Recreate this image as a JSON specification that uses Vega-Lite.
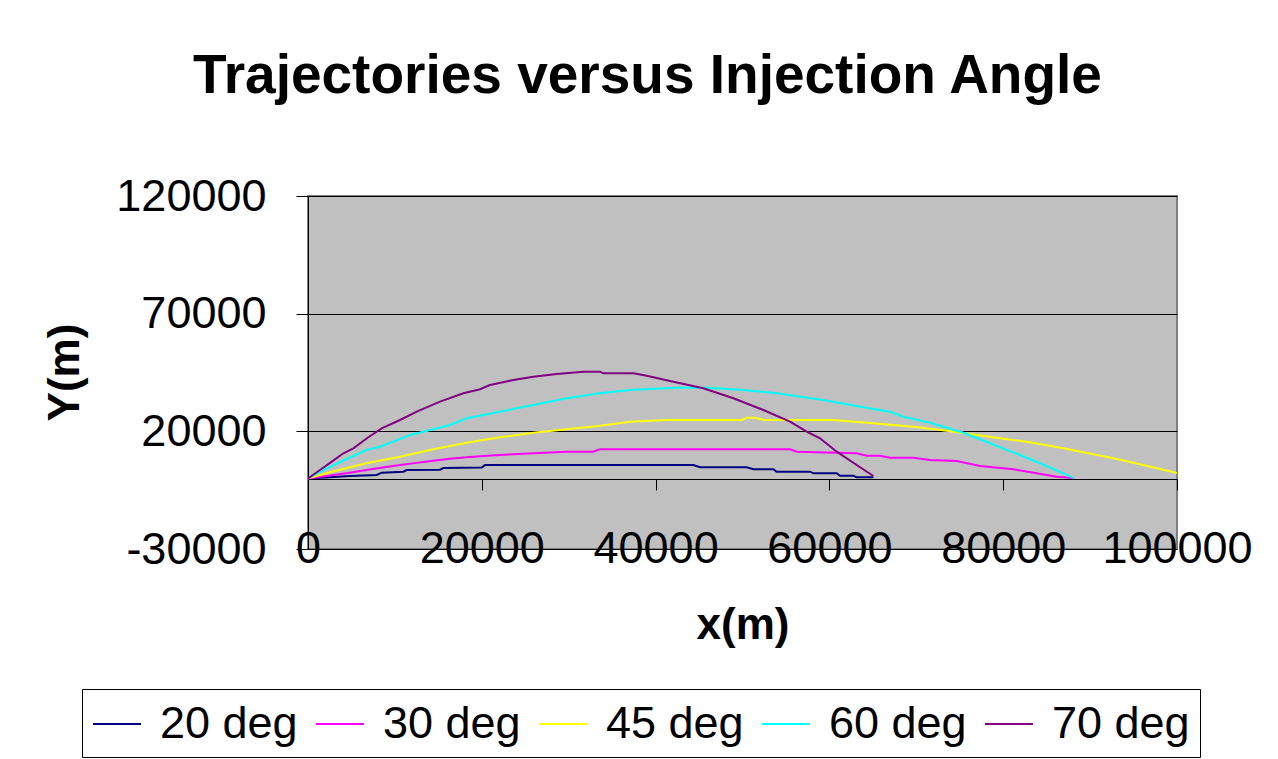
{
  "$schema": "https://vega.github.io/schema/vega-lite/v6.json",
  "width": 869,
  "height": 353,
  "autosize": {"type": "none"},
  "padding": {"left": 308, "top": 196, "right": 101, "bottom": 210},
  "background": "white",
  "title": {
    "text": "Trajectories versus Injection Angle",
    "fontSize": 55,
    "fontWeight": "bold",
    "color": "black",
    "anchor": "middle",
    "dx": -95,
    "offset": 26,
    "baseline": "alphabetic"
  },
  "data": {
    "values": [
      {"angle": "20 deg", "x": 0, "y": 0},
      {"angle": "20 deg", "x": 2000, "y": 400},
      {"angle": "20 deg", "x": 4830, "y": 1020},
      {"angle": "20 deg", "x": 7900, "y": 1440},
      {"angle": "20 deg", "x": 8480, "y": 2420},
      {"angle": "20 deg", "x": 10970, "y": 2850},
      {"angle": "20 deg", "x": 11360, "y": 3570},
      {"angle": "20 deg", "x": 15190, "y": 3700},
      {"angle": "20 deg", "x": 15570, "y": 4420},
      {"angle": "20 deg", "x": 19980, "y": 4600},
      {"angle": "20 deg", "x": 20370, "y": 5650},
      {"angle": "20 deg", "x": 44340, "y": 5650},
      {"angle": "20 deg", "x": 45110, "y": 4720},
      {"angle": "20 deg", "x": 50480, "y": 4720},
      {"angle": "20 deg", "x": 51260, "y": 3870},
      {"angle": "20 deg", "x": 53560, "y": 3870},
      {"angle": "20 deg", "x": 53930, "y": 2850},
      {"angle": "20 deg", "x": 57770, "y": 2850},
      {"angle": "20 deg", "x": 58170, "y": 2170},
      {"angle": "20 deg", "x": 60840, "y": 2170},
      {"angle": "20 deg", "x": 61220, "y": 1150},
      {"angle": "20 deg", "x": 62760, "y": 1150},
      {"angle": "20 deg", "x": 63140, "y": 470},
      {"angle": "20 deg", "x": 65060, "y": 470},

      {"angle": "30 deg", "x": 0, "y": 0},
      {"angle": "30 deg", "x": 2920, "y": 1440},
      {"angle": "30 deg", "x": 4600, "y": 2300},
      {"angle": "30 deg", "x": 6710, "y": 3570},
      {"angle": "30 deg", "x": 8600, "y": 4600},
      {"angle": "30 deg", "x": 10590, "y": 5700},
      {"angle": "30 deg", "x": 12500, "y": 6600},
      {"angle": "30 deg", "x": 14420, "y": 7520},
      {"angle": "30 deg", "x": 16300, "y": 8300},
      {"angle": "30 deg", "x": 18260, "y": 8970},
      {"angle": "30 deg", "x": 20200, "y": 9500},
      {"angle": "30 deg", "x": 22090, "y": 9950},
      {"angle": "30 deg", "x": 25930, "y": 10670},
      {"angle": "30 deg", "x": 29760, "y": 11350},
      {"angle": "30 deg", "x": 32800, "y": 11350},
      {"angle": "30 deg", "x": 33600, "y": 12370},
      {"angle": "30 deg", "x": 55470, "y": 12370},
      {"angle": "30 deg", "x": 56240, "y": 11350},
      {"angle": "30 deg", "x": 63140, "y": 10670},
      {"angle": "30 deg", "x": 64290, "y": 9650},
      {"angle": "30 deg", "x": 65820, "y": 9650},
      {"angle": "30 deg", "x": 66970, "y": 8800},
      {"angle": "30 deg", "x": 69660, "y": 8800},
      {"angle": "30 deg", "x": 71580, "y": 7820},
      {"angle": "30 deg", "x": 74650, "y": 7400},
      {"angle": "30 deg", "x": 77330, "y": 5270},
      {"angle": "30 deg", "x": 81160, "y": 3870},
      {"angle": "30 deg", "x": 83850, "y": 2170},
      {"angle": "30 deg", "x": 86150, "y": 720},
      {"angle": "30 deg", "x": 88070, "y": 200},

      {"angle": "45 deg", "x": 0, "y": 0},
      {"angle": "45 deg", "x": 3000, "y": 3000},
      {"angle": "45 deg", "x": 6710, "y": 6420},
      {"angle": "45 deg", "x": 10590, "y": 9220},
      {"angle": "45 deg", "x": 14420, "y": 12370},
      {"angle": "45 deg", "x": 18260, "y": 15170},
      {"angle": "45 deg", "x": 22090, "y": 17470},
      {"angle": "45 deg", "x": 25930, "y": 19420},
      {"angle": "45 deg", "x": 29760, "y": 20870},
      {"angle": "45 deg", "x": 33600, "y": 22400},
      {"angle": "45 deg", "x": 37050, "y": 24100},
      {"angle": "45 deg", "x": 41270, "y": 24820},
      {"angle": "45 deg", "x": 50000, "y": 24820},
      {"angle": "45 deg", "x": 50470, "y": 25800},
      {"angle": "45 deg", "x": 51500, "y": 25800},
      {"angle": "45 deg", "x": 52400, "y": 24820},
      {"angle": "45 deg", "x": 60450, "y": 24820},
      {"angle": "45 deg", "x": 65060, "y": 23420},
      {"angle": "45 deg", "x": 69660, "y": 21970},
      {"angle": "45 deg", "x": 73490, "y": 20270},
      {"angle": "45 deg", "x": 79250, "y": 17300},
      {"angle": "45 deg", "x": 83080, "y": 15340},
      {"angle": "45 deg", "x": 86920, "y": 12790},
      {"angle": "45 deg", "x": 92670, "y": 8540},
      {"angle": "45 deg", "x": 96510, "y": 5400},
      {"angle": "45 deg", "x": 100000, "y": 2300},

      {"angle": "60 deg", "x": 0, "y": 0},
      {"angle": "60 deg", "x": 1770, "y": 3500},
      {"angle": "60 deg", "x": 4000, "y": 7500},
      {"angle": "60 deg", "x": 6710, "y": 12070},
      {"angle": "60 deg", "x": 8290, "y": 13470},
      {"angle": "60 deg", "x": 11740, "y": 18440},
      {"angle": "60 deg", "x": 14420, "y": 20870},
      {"angle": "60 deg", "x": 16340, "y": 22690},
      {"angle": "60 deg", "x": 18260, "y": 25540},
      {"angle": "60 deg", "x": 22090, "y": 28350},
      {"angle": "60 deg", "x": 25930, "y": 31190},
      {"angle": "60 deg", "x": 29760, "y": 34040},
      {"angle": "60 deg", "x": 33600, "y": 36160},
      {"angle": "60 deg", "x": 37050, "y": 37570},
      {"angle": "60 deg", "x": 42420, "y": 38550},
      {"angle": "60 deg", "x": 46000, "y": 38550},
      {"angle": "60 deg", "x": 50090, "y": 37570},
      {"angle": "60 deg", "x": 53930, "y": 36160},
      {"angle": "60 deg", "x": 59300, "y": 33320},
      {"angle": "60 deg", "x": 63900, "y": 30220},
      {"angle": "60 deg", "x": 66970, "y": 28350},
      {"angle": "60 deg", "x": 68500, "y": 26220},
      {"angle": "60 deg", "x": 71580, "y": 23670},
      {"angle": "60 deg", "x": 75410, "y": 19420},
      {"angle": "60 deg", "x": 78480, "y": 14920},
      {"angle": "60 deg", "x": 81930, "y": 9950},
      {"angle": "60 deg", "x": 85000, "y": 5270},
      {"angle": "60 deg", "x": 88070, "y": 200},

      {"angle": "70 deg", "x": 0, "y": 0},
      {"angle": "70 deg", "x": 1380, "y": 3570},
      {"angle": "70 deg", "x": 2700, "y": 7000},
      {"angle": "70 deg", "x": 4070, "y": 10670},
      {"angle": "70 deg", "x": 5220, "y": 12790},
      {"angle": "70 deg", "x": 6940, "y": 17470},
      {"angle": "70 deg", "x": 8480, "y": 21290},
      {"angle": "70 deg", "x": 10590, "y": 24820},
      {"angle": "70 deg", "x": 12510, "y": 28350},
      {"angle": "70 deg", "x": 15190, "y": 32600},
      {"angle": "70 deg", "x": 17880, "y": 36160},
      {"angle": "70 deg", "x": 19790, "y": 37870},
      {"angle": "70 deg", "x": 20940, "y": 39700},
      {"angle": "70 deg", "x": 23630, "y": 41820},
      {"angle": "70 deg", "x": 25930, "y": 43220},
      {"angle": "70 deg", "x": 28620, "y": 44370},
      {"angle": "70 deg", "x": 31680, "y": 45350},
      {"angle": "70 deg", "x": 33600, "y": 45350},
      {"angle": "70 deg", "x": 33980, "y": 44670},
      {"angle": "70 deg", "x": 37440, "y": 44670},
      {"angle": "70 deg", "x": 38970, "y": 43650},
      {"angle": "70 deg", "x": 42040, "y": 41100},
      {"angle": "70 deg", "x": 45490, "y": 38290},
      {"angle": "70 deg", "x": 48950, "y": 34040},
      {"angle": "70 deg", "x": 52400, "y": 29070},
      {"angle": "70 deg", "x": 55470, "y": 24100},
      {"angle": "70 deg", "x": 57390, "y": 19850},
      {"angle": "70 deg", "x": 58920, "y": 17040},
      {"angle": "70 deg", "x": 60840, "y": 11350},
      {"angle": "70 deg", "x": 63140, "y": 5700},
      {"angle": "70 deg", "x": 65060, "y": 1020}
    ]
  },
  "mark": {"type": "line", "strokeWidth": 2, "clip": true},
  "encoding": {
    "x": {
      "field": "x",
      "type": "quantitative",
      "scale": {"domain": [0, 100000], "nice": false, "zero": false},
      "axis": {
        "values": [0, 20000, 40000, 60000, 80000, 100000],
        "labelExpr": "'' + datum.value",
        "offset": -70,
        "grid": false,
        "domainColor": "black",
        "domainWidth": 1,
        "tickColor": "black",
        "tickWidth": 1,
        "tickSize": 11,
        "labelFontSize": 45,
        "labelColor": "black",
        "labelPadding": 36,
        "labelFlush": false,
        "labelOverlap": false,
        "labelBound": false,
        "title": "x(m)",
        "titleFontSize": 44,
        "titleFontWeight": "bold",
        "titleColor": "black",
        "titlePadding": 32
      }
    },
    "y": {
      "field": "y",
      "type": "quantitative",
      "scale": {"domain": [-30000, 120000], "nice": false, "zero": false},
      "axis": {
        "values": [-30000, 20000, 70000, 120000],
        "labelExpr": "datum.value < 0 ? '-' + abs(datum.value) : '' + datum.value",
        "grid": true,
        "gridColor": "black",
        "gridWidth": 1,
        "gridOpacity": 1,
        "domainColor": "black",
        "domainWidth": 1,
        "tickColor": "black",
        "tickWidth": 1,
        "tickSize": 12,
        "labelFontSize": 45,
        "labelColor": "black",
        "labelPadding": 30,
        "labelFlush": false,
        "labelOverlap": false,
        "labelBound": false,
        "title": "Y(m)",
        "titleFontSize": 44,
        "titleFontWeight": "bold",
        "titleColor": "black",
        "titleAngle": -90,
        "titleAlign": "center",
        "titleBaseline": "middle",
        "titleX": -243,
        "titleY": 176
      }
    },
    "color": {
      "field": "angle",
      "type": "nominal",
      "scale": {
        "domain": ["20 deg", "30 deg", "45 deg", "60 deg", "70 deg"],
        "range": ["#000080", "#FF00FF", "#FFFF00", "#00FFFF", "#800080"]
      },
      "legend": {
        "orient": "none",
        "legendX": -226,
        "legendY": 493,
        "direction": "horizontal",
        "columns": 5,
        "title": null,
        "symbolType": "stroke",
        "symbolSize": 2304,
        "symbolStrokeWidth": 2,
        "labelFontSize": 45,
        "labelColor": "black",
        "labelOffset": 18,
        "labelLimit": 400,
        "columnPadding": 14,
        "padding": 10,
        "strokeColor": "black",
        "fillColor": "white"
      }
    }
  },
  "config": {
    "font": "Liberation Sans",
    "view": {"fill": "#C0C0C0", "stroke": "#808080", "strokeWidth": 2},
    "axis": {"labelFont": "Liberation Sans", "titleFont": "Liberation Sans"},
    "legend": {"labelFont": "Liberation Sans"},
    "title": {"font": "Liberation Sans"}
  }
}
